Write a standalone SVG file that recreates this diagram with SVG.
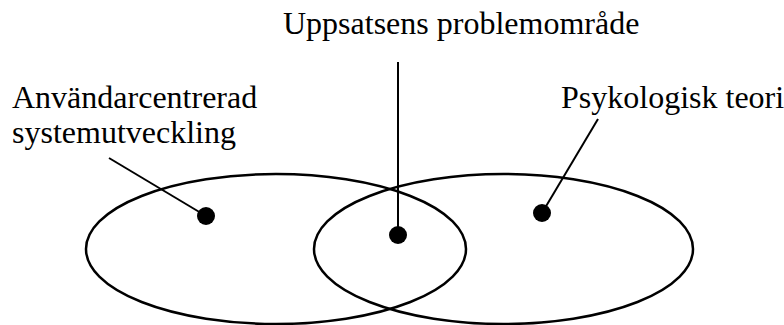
<svg xmlns="http://www.w3.org/2000/svg" width="784" height="325" viewBox="0 0 784 325">
<style>
.t{font-family:"Liberation Serif","Times New Roman",serif;font-size:32px;fill:#000}
.e{fill:none;stroke:#000;stroke-width:2.5}
.c{stroke:#000;stroke-width:2;fill:none}
.d{fill:#000}
</style>
<rect width="784" height="325" fill="#fff"/>
<g id="set-left"><ellipse class="e" cx="276" cy="249" rx="190" ry="75"/></g>
<g id="set-right"><ellipse class="e" cx="503.5" cy="249" rx="189.5" ry="75"/></g>
<g id="connectors">
<line class="c" x1="109" y1="158" x2="206" y2="216"/>
<line class="c" x1="398" y1="62" x2="398" y2="235"/>
<line class="c" x1="598" y1="119" x2="542" y2="213"/>
</g>
<g id="label-left">
<text class="t" x="12" y="108">Användarcentrerad</text>
<text class="t" x="12" y="143">systemutveckling</text>
<circle class="d" cx="206" cy="216" r="9"/>
</g>
<g id="label-middle">
<text class="t" x="283" y="34">Uppsatsens problemområde</text>
<circle class="d" cx="398" cy="235" r="9"/>
</g>
<g id="label-right">
<text class="t" x="561" y="108">Psykologisk teori</text>
<circle class="d" cx="542" cy="213" r="9"/>
</g>
</svg>
